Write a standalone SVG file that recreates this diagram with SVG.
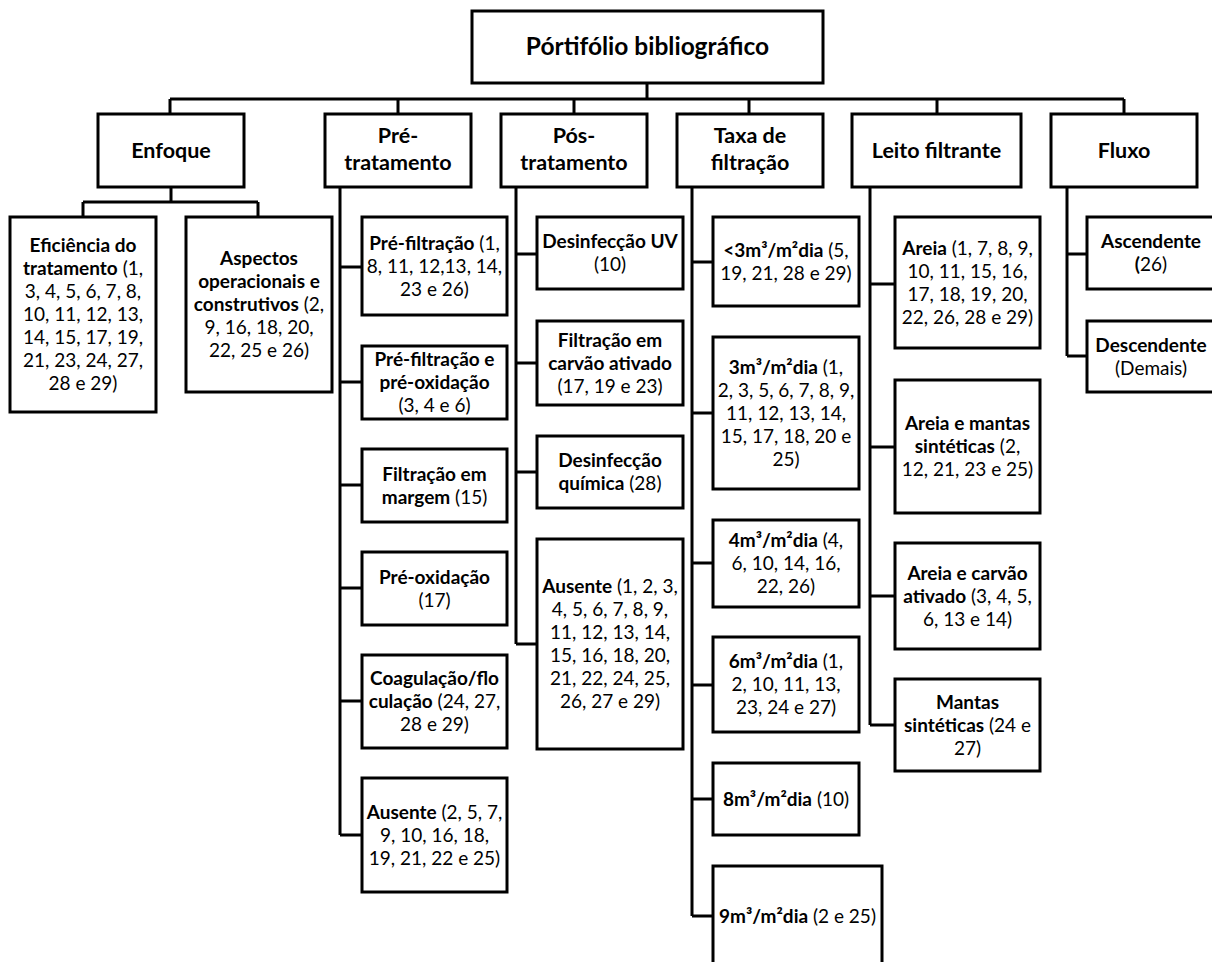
<svg xmlns="http://www.w3.org/2000/svg" width="1212" height="962" viewBox="0 0 1212 962">
<style>
.box{fill:#fff;stroke:#000;stroke-width:3}
.c{fill:none;stroke:#000;stroke-width:3}
text{font-family:Lato,"Liberation Sans",sans-serif;text-anchor:middle;fill:#000}
.t{font-size:19px}
.h{font-size:21.5px;font-weight:bold}
.ti{font-size:24.5px;font-weight:bold}
.b{font-weight:bold}
</style>
<rect width="1212" height="962" fill="#fff"/>
<g id="connectors">
<path class="c" d="M647 83V99M170 99H1124M170 99V114M398 99V114M574 99V114M749 99V114M937 99V114M1124 99V114"/>
<path class="c" d="M171 187V202M83 202H258M83 202V217M258 202V217"/>
<path class="c" d="M340 187V835M340 267H362M340 382H362M340 485H362M340 588H362M340 701H362M340 835H362"/>
<path class="c" d="M516 187V644M516 254H537M516 363H537M516 472H537M516 644H537"/>
<path class="c" d="M692 187V916M692 262H713M692 413H713M692 563H713M692 685H713M692 799H713M692 916H713"/>
<path class="c" d="M870 187V725M870 284H895M870 447H895M870 596H895M870 725H895"/>
<path class="c" d="M1067 187V356M1067 254H1087M1067 356H1087"/>
</g>
<g id="root"><rect class="box" x="472" y="11" width="351" height="72"/><text class="ti" x="647.5" y="55">Pórtifólio bibliográfico</text></g>
<g id="enfoque"><rect class="box" x="98" y="114" width="146" height="73"/><text class="h" x="171" y="158">Enfoque</text></g>
<g id="pre"><rect class="box" x="325" y="114" width="146" height="73"/><text class="h" x="398" y="143">Pré-</text><text class="h" x="398" y="170">tratamento</text></g>
<g id="pos"><rect class="box" x="501" y="114" width="146" height="73"/><text class="h" x="574" y="143">Pós-</text><text class="h" x="574" y="170">tratamento</text></g>
<g id="taxa"><rect class="box" x="677" y="114" width="146" height="73"/><text class="h" x="750" y="143">Taxa de</text><text class="h" x="750" y="170">filtração</text></g>
<g id="leito"><rect class="box" x="852" y="114" width="169" height="73"/><text class="h" x="936.5" y="158">Leito filtrante</text></g>
<g id="fluxo"><rect class="box" x="1051" y="114" width="146" height="73"/><text class="h" x="1124" y="158">Fluxo</text></g>

<g id="eficiencia"><rect class="box" x="10" y="217" width="146" height="195"/>
<text class="t" x="83" y="252"><tspan class="b">Eficiência do</tspan></text>
<text class="t" x="83" y="275"><tspan class="b">tratamento</tspan> (1,</text>
<text class="t" x="83" y="298">3, 4, 5, 6, 7, 8,</text>
<text class="t" x="83" y="321">10, 11, 12, 13,</text>
<text class="t" x="83" y="344">14, 15, 17, 19,</text>
<text class="t" x="83" y="367">21, 23, 24, 27,</text>
<text class="t" x="83" y="390">28 e 29)</text></g>
<g id="aspectos"><rect class="box" x="186" y="217" width="146" height="175"/>
<text class="t" x="259" y="265"><tspan class="b">Aspectos</tspan></text>
<text class="t" x="259" y="288"><tspan class="b">operacionais e</tspan></text>
<text class="t" x="259" y="311"><tspan class="b">construtivos</tspan> (2,</text>
<text class="t" x="259" y="334">9, 16, 18, 20,</text>
<text class="t" x="259" y="357">22, 25 e 26)</text></g>

<g id="prefiltracao"><rect class="box" x="362" y="217" width="145" height="98"/>
<text class="t" x="434.5" y="249.5"><tspan class="b">Pré-filtração</tspan> (1,</text>
<text class="t" x="434.5" y="272.5">8, 11, 12,13, 14,</text>
<text class="t" x="434.5" y="295.5">23 e 26)</text></g>
<g id="prefiltpreox"><rect class="box" x="362" y="346" width="145" height="73"/>
<text class="t" x="434.5" y="366"><tspan class="b">Pré-filtração e</tspan></text>
<text class="t" x="434.5" y="389"><tspan class="b">pré-oxidação</tspan></text>
<text class="t" x="434.5" y="412">(3, 4 e 6)</text></g>
<g id="filtmargem"><rect class="box" x="362" y="449" width="145" height="73"/>
<text class="t" x="434.5" y="480.5"><tspan class="b">Filtração em</tspan></text>
<text class="t" x="434.5" y="503.5"><tspan class="b">margem</tspan> (15)</text></g>
<g id="preoxidacao"><rect class="box" x="362" y="552" width="145" height="73"/>
<text class="t" x="434.5" y="583.5"><tspan class="b">Pré-oxidação</tspan></text>
<text class="t" x="434.5" y="606.5">(17)</text></g>
<g id="coagulacao"><rect class="box" x="362" y="655" width="145" height="93"/>
<text class="t" x="434.5" y="685"><tspan class="b">Coagulação/flo</tspan></text>
<text class="t" x="434.5" y="708"><tspan class="b">culação</tspan> (24, 27,</text>
<text class="t" x="434.5" y="731">28 e 29)</text></g>
<g id="preausente"><rect class="box" x="362" y="778" width="145" height="114"/>
<text class="t" x="434.5" y="818.5"><tspan class="b">Ausente</tspan> (2, 5, 7,</text>
<text class="t" x="434.5" y="841.5">9, 10, 16, 18,</text>
<text class="t" x="434.5" y="864.5">19, 21, 22 e 25)</text></g>

<g id="desinfuv"><rect class="box" x="537" y="217" width="146" height="72"/>
<text class="t" x="610" y="248"><tspan class="b">Desinfecção UV</tspan></text>
<text class="t" x="610" y="271">(10)</text></g>
<g id="filtcarvao"><rect class="box" x="537" y="321" width="146" height="84"/>
<text class="t" x="610" y="346.5"><tspan class="b">Filtração em</tspan></text>
<text class="t" x="610" y="369.5"><tspan class="b">carvão ativado</tspan></text>
<text class="t" x="610" y="392.5">(17, 19 e 23)</text></g>
<g id="desinfquimica"><rect class="box" x="537" y="436" width="146" height="72"/>
<text class="t" x="610" y="467"><tspan class="b">Desinfecção</tspan></text>
<text class="t" x="610" y="490"><tspan class="b">química</tspan> (28)</text></g>
<g id="posausente"><rect class="box" x="537" y="539" width="146" height="210"/>
<text class="t" x="610" y="593"><tspan class="b">Ausente</tspan> (1, 2, 3,</text>
<text class="t" x="610" y="616">4, 5, 6, 7, 8, 9,</text>
<text class="t" x="610" y="639">11, 12, 13, 14,</text>
<text class="t" x="610" y="662">15, 16, 18, 20,</text>
<text class="t" x="610" y="685">21, 22, 24, 25,</text>
<text class="t" x="610" y="708">26, 27 e 29)</text></g>

<g id="taxa3menos"><rect class="box" x="713" y="217" width="146" height="89"/>
<text class="t" x="786" y="256.5"><tspan class="b">&lt;3m³/m²dia</tspan> (5,</text>
<text class="t" x="786" y="279.5">19, 21, 28 e 29)</text></g>
<g id="taxa3"><rect class="box" x="713" y="337" width="146" height="152"/>
<text class="t" x="786" y="373.5"><tspan class="b">3m³/m²dia</tspan> (1,</text>
<text class="t" x="786" y="396.5">2, 3, 5, 6, 7, 8, 9,</text>
<text class="t" x="786" y="419.5">11, 12, 13, 14,</text>
<text class="t" x="786" y="442.5">15, 17, 18, 20 e</text>
<text class="t" x="786" y="465.5">25)</text></g>
<g id="taxa4"><rect class="box" x="713" y="520" width="146" height="87"/>
<text class="t" x="786" y="547"><tspan class="b">4m³/m²dia</tspan> (4,</text>
<text class="t" x="786" y="570">6, 10, 14, 16,</text>
<text class="t" x="786" y="593">22, 26)</text></g>
<g id="taxa6"><rect class="box" x="713" y="637" width="146" height="95"/>
<text class="t" x="786" y="668"><tspan class="b">6m³/m²dia</tspan> (1,</text>
<text class="t" x="786" y="691">2, 10, 11, 13,</text>
<text class="t" x="786" y="714">23, 24 e 27)</text></g>
<g id="taxa8"><rect class="box" x="713" y="763" width="146" height="72"/>
<text class="t" x="786" y="805.5"><tspan class="b">8m³/m²dia</tspan> (10)</text></g>
<g id="taxa9"><rect class="box" x="713" y="866" width="169" height="110"/>
<text class="t" x="797.5" y="922.5"><tspan class="b">9m³/m²dia</tspan> (2 e 25)</text></g>

<g id="areia"><rect class="box" x="895" y="217" width="145" height="131"/>
<text class="t" x="967.5" y="254.5"><tspan class="b">Areia</tspan> (1, 7, 8, 9,</text>
<text class="t" x="967.5" y="277.5">10, 11, 15, 16,</text>
<text class="t" x="967.5" y="300.5">17, 18, 19, 20,</text>
<text class="t" x="967.5" y="323.5">22, 26, 28 e 29)</text></g>
<g id="areiamantas"><rect class="box" x="895" y="380" width="145" height="133"/>
<text class="t" x="967.5" y="430"><tspan class="b">Areia e mantas</tspan></text>
<text class="t" x="967.5" y="453"><tspan class="b">sintéticas</tspan> (2,</text>
<text class="t" x="967.5" y="476">12, 21, 23 e 25)</text></g>
<g id="areiacarvao"><rect class="box" x="895" y="543" width="145" height="106"/>
<text class="t" x="967.5" y="579.5"><tspan class="b">Areia e carvão</tspan></text>
<text class="t" x="967.5" y="602.5"><tspan class="b">ativado</tspan> (3, 4, 5,</text>
<text class="t" x="967.5" y="625.5">6, 13 e 14)</text></g>
<g id="mantas"><rect class="box" x="895" y="679" width="145" height="92"/>
<text class="t" x="967.5" y="708.5"><tspan class="b">Mantas</tspan></text>
<text class="t" x="967.5" y="731.5"><tspan class="b">sintéticas</tspan> (24 e</text>
<text class="t" x="967.5" y="754.5">27)</text></g>

<g id="ascendente"><rect class="box" x="1087" y="217" width="150" height="72"/>
<text class="t" x="1151" y="248"><tspan class="b">Ascendente</tspan></text>
<text class="t" x="1151" y="271"><tspan class="b">(</tspan>26)</text></g>
<g id="descendente"><rect class="box" x="1087" y="321" width="150" height="71"/>
<text class="t" x="1151" y="352"><tspan class="b">Descendente</tspan></text>
<text class="t" x="1151" y="375">(Demais)</text></g>
</svg>
